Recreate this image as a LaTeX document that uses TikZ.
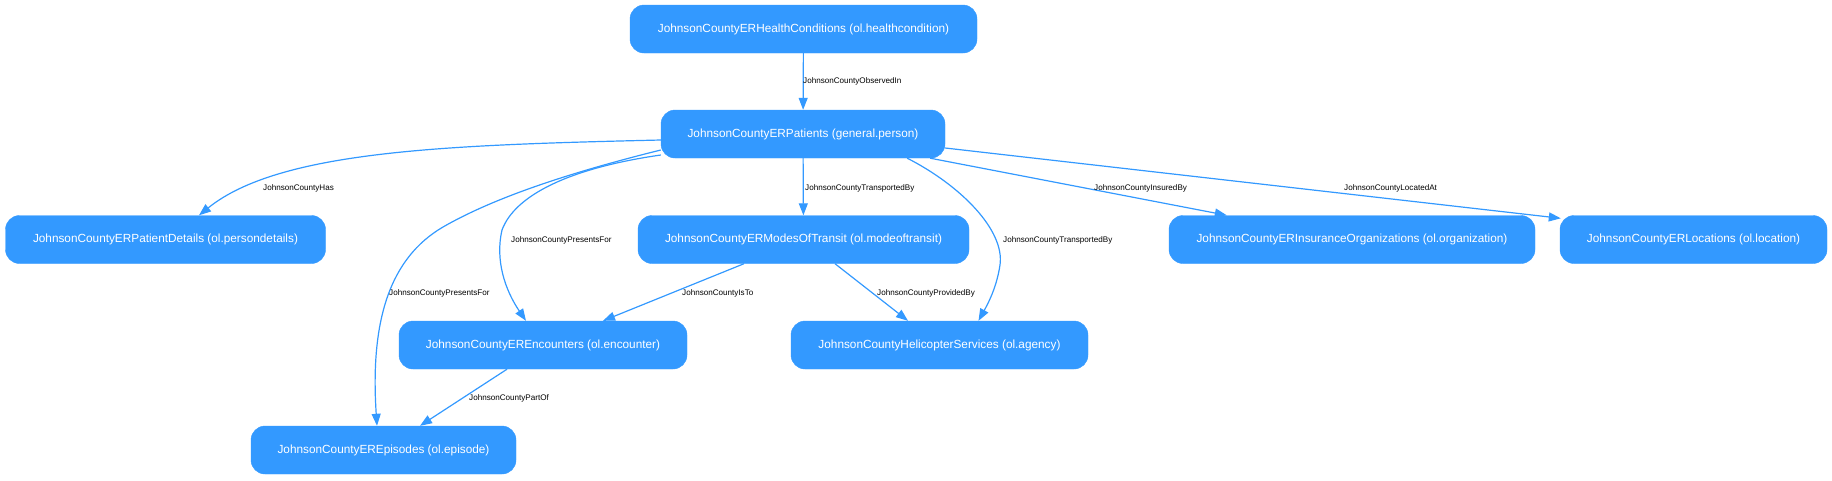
\documentclass[tikz,border=0pt]{standalone}
\usepackage{fontspec}
\setmainfont{Liberation Sans}
\usetikzlibrary{arrows.meta,calc}
\definecolor{nodeblue}{RGB}{51,153,255}
\tikzset{
  ent/.style={draw=nodeblue, fill=nodeblue, rounded corners=14pt, minimum height=48pt,
    inner sep=0pt, text=white, font=\fontsize{11.8}{13}\selectfont},
  edge/.style={draw=nodeblue, line width=1.2pt, -{Triangle[length=12pt,width=9pt]}},
  lbl/.style={anchor=west, inner sep=0pt, text=black, font=\fontsize{8.1}{9}\selectfont}
}
\begin{document}
\begin{tikzpicture}[x=1pt,y=-1pt]
\useasboundingbox (0,0) rectangle (1832,480);
% nodes
\node[ent, minimum width=347pt] (hc)  at (803.5,29) {JohnsonCountyERHealthConditions (ol.healthcondition)};
\node[ent, minimum width=284pt] (pat) at (803,134) {JohnsonCountyERPatients (general.person)};
\node[ent, minimum width=320pt] (pd)  at (165.5,239.5) {JohnsonCountyERPatientDetails (ol.persondetails)};
\node[ent, minimum width=331pt] (modes) at (803.5,239.5) {JohnsonCountyERModesOfTransit (ol.modeoftransit)};
\node[ent, minimum width=366pt] (ins) at (1352,239.5) {JohnsonCountyERInsuranceOrganizations (ol.organization)};
\node[ent, minimum width=267pt] (loc) at (1693.5,239.5) {JohnsonCountyERLocations (ol.location)};
\node[ent, minimum width=288pt] (enc) at (543,345) {JohnsonCountyEREncounters (ol.encounter)};
\node[ent, minimum width=297pt] (heli) at (939.5,345) {JohnsonCountyHelicopterServices (ol.agency)};
\node[ent, minimum width=265pt] (ep) at (383.5,450) {JohnsonCountyEREpisodes (ol.episode)};
% edges
\draw[edge] (hc) -- (pat);
\draw[edge] ($(pat.west)+(0,6)$) .. controls (450,145) and (280,150) .. ($(pd.north)+(33.5,0)$);
\draw[edge] ($(pat.west)+(0,16)$) .. controls (560,175) and (490,200) .. (443,227)
   .. controls (390,258) and (370,320) .. ($(ep.north)+(-6.5,0)$);
\draw[edge] ($(pat.west)+(0,21)$) .. controls (570,168) and (515,195) .. (502,230)
   .. controls (495,260) and (505,290) .. ($(enc.north)+(-17,0)$);
\draw[edge] (pat) -- (modes);
\draw[edge] ($(pat.south east)+(-15,0)$) -- ($(ins.north west)+(58,0)$);
\draw[edge] ($(pat.east)+(0,14)$) -- ($(loc.north west)+(1,3)$);
\draw[edge] ($(pat.south east)+(-38,0)$) .. controls (960,185) and (1005,230) .. (1000,265)
   .. controls (997,285) and (990,300) .. ($(heli.north)+(39,0)$);
\draw[edge] ($(modes.south)+(-59.5,0)$) -- ($(enc.north)+(60,0)$);
\draw[edge] ($(modes.south)+(31.5,0)$) -- ($(heli.north)+(-31.5,0)$);
\draw[edge] ($(enc.south)+(-36,0)$) -- ($(ep.north)+(36.5,0)$);
% labels
\node[lbl] (l1) at (803,81) {JohnsonCountyObservedIn};
\node[lbl] (l2) at (263,188) {JohnsonCountyHas};
\node[lbl] (l3) at (805,188) {JohnsonCountyTransportedBy};
\node[lbl] (l4) at (1094,188) {JohnsonCountyInsuredBy};
\node[lbl] (l5) at (1344,188) {JohnsonCountyLocatedAt};
\node[lbl] (l6) at (511,240) {JohnsonCountyPresentsFor};
\node[lbl] (l7) at (1003,240) {JohnsonCountyTransportedBy};
\node[lbl] (l8) at (389,293) {JohnsonCountyPresentsFor};
\node[lbl] (l9) at (682,293) {JohnsonCountyIsTo};
\node[lbl] (l10) at (877,293) {JohnsonCountyProvidedBy};
\node[lbl] (l11) at (469,398) {JohnsonCountyPartOf};
\end{tikzpicture}
\end{document}
